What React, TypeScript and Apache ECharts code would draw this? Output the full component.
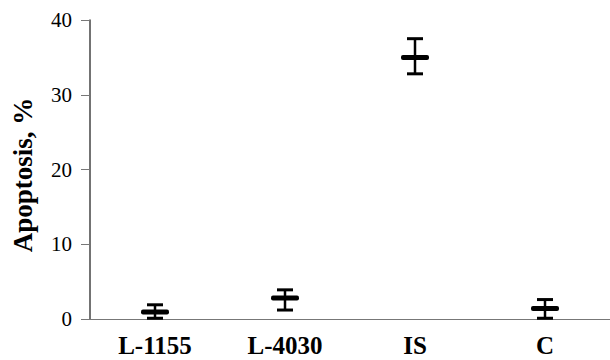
import React, { useEffect, useRef } from "react";
import * as echarts from "echarts";

const categories = ["L-1155", "L-4030", "IS", "C"];
const means = [0.95, 2.8, 35.0, 1.4];
const lows = [0.1, 1.2, 32.8, 0.1];
const highs = [1.9, 3.9, 37.5, 2.6];
const yTicks = [0, 10, 20, 30, 40];
const yTitle = "Apoptosis, %";

const FONT = '"Liberation Serif", "Times New Roman", serif';

export default function App() {
  const ref = useRef<HTMLDivElement>(null);
  useEffect(() => {
    if (!ref.current) return;
    const chart = echarts.init(ref.current, null, { renderer: "svg" });
    const data = categories.map((_, i) => [i, means[i], lows[i], highs[i]]);
    chart.setOption({
      animation: false,
      backgroundColor: "#ffffff",
      grid: { left: 90, top: 20, width: 523, height: 299, containLabel: false },
      graphic: [
        {
          type: "text",
          x: 23,
          y: 175,
          rotation: Math.PI / 2,
          style: {
            text: yTitle,
            fill: "#000",
            font: `bold 27px ${FONT}`,
            textAlign: "center",
            textVerticalAlign: "middle",
          },
        },
      ],
      xAxis: {
        type: "category",
        data: categories,
        boundaryGap: true,
        axisLine: { show: true, lineStyle: { color: "#777", width: 1 } },
        axisTick: { show: false },
        axisLabel: {
          margin: 14,
          color: "#000",
          fontFamily: FONT,
          fontWeight: "bold",
          fontSize: 25,
        },
        splitLine: { show: false },
      },
      yAxis: {
        type: "value",
        min: yTicks[0],
        max: yTicks[yTicks.length - 1],
        interval: 10,
        axisLine: { show: true, lineStyle: { color: "#444", width: 1.5 } },
        axisTick: { show: true, inside: false, length: 9, lineStyle: { color: "#777", width: 1 } },
        axisLabel: {
          margin: 18,
          color: "#000",
          fontFamily: FONT,
          fontSize: 21,
        },
        splitLine: { show: false },
      },
      series: [
        {
          type: "custom",
          clip: false,
          data,
          renderItem: (params: any, api: any) => {
            const idx = api.value(0);
            const c = api.coord([idx, api.value(1)]);
            const lo = api.coord([idx, api.value(2)]);
            const hi = api.coord([idx, api.value(3)]);
            const capHalf = 8;
            const barHalf = 14;
            const stroke = { stroke: "#000", lineWidth: 3 };
            return {
              type: "group",
              children: [
                {
                  type: "line",
                  shape: { x1: c[0], y1: hi[1], x2: c[0], y2: lo[1] },
                  style: { stroke: "#000", lineWidth: 2.5 },
                },
                {
                  type: "line",
                  shape: { x1: c[0] - capHalf, y1: hi[1], x2: c[0] + capHalf, y2: hi[1] },
                  style: stroke,
                },
                {
                  type: "line",
                  shape: { x1: c[0] - capHalf, y1: lo[1], x2: c[0] + capHalf, y2: lo[1] },
                  style: stroke,
                },
                {
                  type: "rect",
                  shape: { x: c[0] - barHalf, y: c[1] - 2.5, width: barHalf * 2, height: 5, r: 2 },
                  style: { fill: "#000" },
                },
              ],
            };
          },
        },
      ],
    });
    return () => chart.dispose();
  }, []);
  return (
    <div
      ref={ref}
      style={{ position: "fixed", left: 0, top: 0, width: 610, height: 360 }}
    />
  );
}
